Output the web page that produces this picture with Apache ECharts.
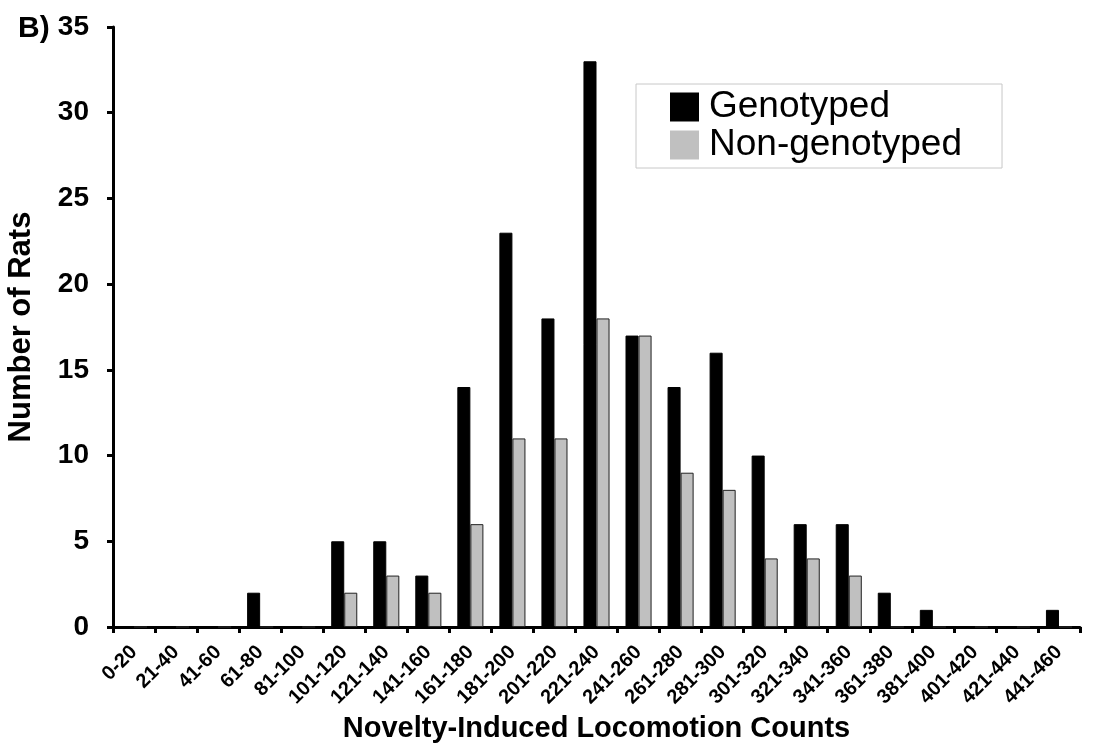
<!DOCTYPE html>
<html>
<head>
<meta charset="utf-8">
<script src="https://cdn.jsdelivr.net/npm/echarts@6/dist/echarts.min.js"></script>
<style>
  html, body { margin: 0; padding: 0; background: #fff; }
  #chart { width: 1101px; height: 745px; }
</style>
</head>
<body>
<div id="chart"></div>
<script>
  // bins of locomotion counts
  const bins = ['0-20', '21-40', '41-60', '61-80', '81-100', '101-120', '121-140', '141-160',
    '161-180', '181-200', '201-220', '221-240', '241-260', '261-280', '281-300', '301-320',
    '321-340', '341-360', '361-380', '381-400', '401-420', '421-440', '441-460'];
  const genotyped = [0, 0, 0, 2, 0, 5, 5, 3, 14, 23, 18, 33, 17, 14, 16, 10, 6, 6, 2, 1, 0, 0, 1];
  const nonGenotyped = [0, 0, 0, 0, 0, 2, 3, 2, 6, 11, 11, 18, 17, 9, 8, 4, 4, 3, 0, 0, 0, 0, 0];
  const yTicks = [0, 5, 10, 15, 20, 25, 30, 35];

  const font = 'Liberation Sans, Arial, sans-serif';
  const myChart = echarts.init(document.getElementById('chart'));

  const option = {
    animation: false,
    textStyle: { fontFamily: font },
    grid: { left: 113, right: 21, top: 27, bottom: 118, containLabel: false, outerBoundsMode: 'none' },
    legend: {
      orient: 'vertical',
      left: 636,
      top: 84,
      padding: [4, 40, 4, 34],
      itemGap: 0,
      itemWidth: 29,
      itemHeight: 29,
      borderColor: '#c8c8c8',
      borderWidth: 1,
      icon: 'rect',
      textStyle: { fontSize: 37, color: '#000', fontFamily: font, lineHeight: 38, padding: [0, 0, 0, 5] },
      data: [
        { name: 'Genotyped', itemStyle: { borderWidth: 0 } },
        { name: 'Non-genotyped', itemStyle: { borderWidth: 0 } }
      ]
    },
    graphic: [{
      type: 'text',
      left: 18,
      top: 14,
      style: { text: 'B)', font: 'bold 30px ' + font, fill: '#000' }
    }],
    xAxis: {
      type: 'category',
      data: bins,
      name: 'Novelty-Induced Locomotion Counts',
      nameLocation: 'middle',
      nameGap: 86,
      nameTextStyle: { fontSize: 29, fontWeight: 'bold', color: '#000', fontFamily: font },
      axisLine: { lineStyle: { color: '#000', width: 3 } },
      axisTick: { show: true, length: 6, lineStyle: { color: '#000', width: 3 } },
      axisLabel: {
        interval: 0,
        rotate: 45,
        margin: 22,
        fontSize: 20,
        fontWeight: 'bold',
        color: '#000',
        fontFamily: font
      }
    },
    yAxis: {
      type: 'value',
      min: yTicks[0],
      max: yTicks[yTicks.length - 1],
      interval: 5,
      name: 'Number of Rats',
      nameLocation: 'middle',
      nameGap: 76,
      nameTextStyle: { fontSize: 31, fontWeight: 'bold', color: '#000', fontFamily: font },
      axisLine: { show: true, lineStyle: { color: '#000', width: 3 } },
      axisTick: { show: true, length: 6, lineStyle: { color: '#000', width: 3 } },
      splitLine: { show: false },
      axisLabel: { margin: 24, fontSize: 28, fontWeight: 'bold', color: '#000', fontFamily: font }
    },
    series: [
      {
        name: 'Genotyped',
        type: 'bar',
        data: genotyped,
        barGap: '0%',
        barCategoryGap: '38%',
        itemStyle: { color: '#000', borderColor: '#000', borderWidth: 1 }
      },
      {
        name: 'Non-genotyped',
        type: 'bar',
        data: nonGenotyped,
        barGap: '0%',
        barCategoryGap: '38%',
        itemStyle: { color: '#c0c0c0', borderColor: '#222', borderWidth: 1 }
      }
    ]
  };
  myChart.setOption(option);
</script>
</body>
</html>
